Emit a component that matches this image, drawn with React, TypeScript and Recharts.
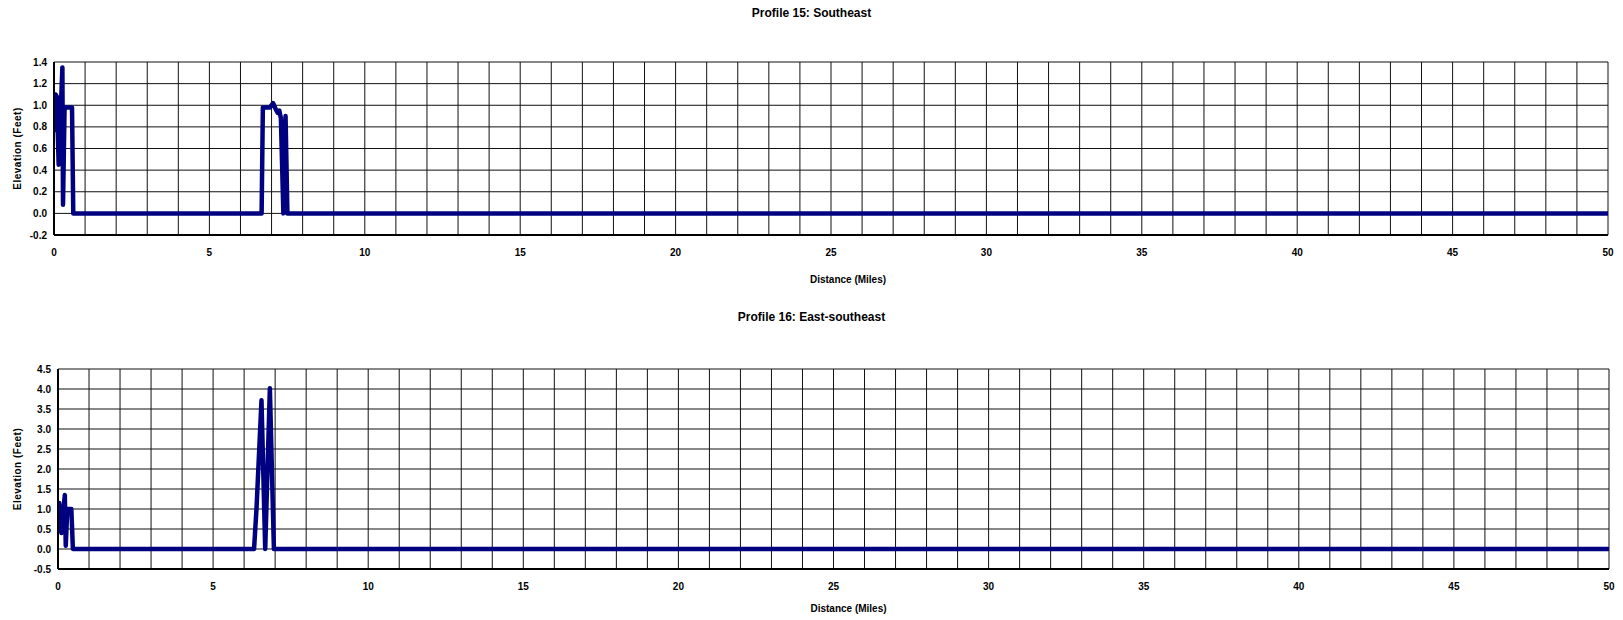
import { CartesianGrid, Line, LineChart, XAxis, YAxis } from "recharts";

// Profile 15: Southeast
const P15_MILES = [0, 0.05, 0.09, 0.15, 0.27, 0.29, 0.34, 0.58, 0.62, 6.68, 6.72, 6.95, 7.05, 7.14, 7.2, 7.25, 7.3, 7.38, 7.45, 7.51, 50];
const P15_FEET = [0.75, 1.1, 1.08, 0.45, 1.35, 0.08, 0.98, 0.98, 0, 0, 0.98, 0.98, 1.02, 0.96, 0.93, 0.95, 0.88, 0, 0.9, 0, 0];

// Profile 16: East-southeast
const P16_MILES = [0, 0.04, 0.11, 0.22, 0.25, 0.3, 0.43, 0.48, 6.32, 6.4, 6.56, 6.68, 6.83, 6.96, 50];
const P16_FEET = [0.6, 1.15, 0.4, 1.35, 0.08, 1.0, 1.0, 0, 0, 1.02, 3.72, 0, 4.02, 0, 0];

const P15_Y_TICKS = [-0.2, 0, 0.2, 0.4, 0.6, 0.8, 1.0, 1.2, 1.4];
const P16_Y_TICKS = [-0.5, 0, 0.5, 1.0, 1.5, 2.0, 2.5, 3.0, 3.5, 4.0, 4.5];
const MILE_LABELS = [0, 5, 10, 15, 20, 25, 30, 35, 40, 45, 50];
const MILE_GRID = Array.from({ length: 51 }, (_, i) => i);

const FONT = "'Liberation Sans', Arial, sans-serif";
const LINE_COLOR = "#000080";

const tickStyle = { fontFamily: FONT, fontSize: 10, fontWeight: 700, fill: "#000" };
const labelStyle = { fontFamily: FONT, fontSize: 10, fontWeight: 700, fill: "#000" };

type ProfileChartProps = {
  title: string;
  miles: number[];
  feet: number[];
  yTicks: number[];
  top: number;
  height: number;
  titleY: number;
  margin: { top: number; right: number; bottom: number; left: number };
  yAxisWidth: number;
  xAxisHeight: number;
  xLabelOffset: number;
  xLabelDx: number;
};

const ProfileChart = ({
  title,
  miles,
  feet,
  yTicks,
  top,
  height,
  titleY,
  margin,
  yAxisWidth,
  xAxisHeight,
  xLabelOffset,
  xLabelDx,
}: ProfileChartProps) => {
  const data = miles.map((mi, i) => ({ mi, ft: feet[i] }));
  const yDomain = [yTicks[0], yTicks[yTicks.length - 1]];

  return (
    <div style={{ position: "absolute", left: 0, top, width: 1623, height }}>
      <div
        style={{
          position: "absolute",
          left: 0,
          top: titleY - 7,
          width: 1623,
          textAlign: "center",
          fontFamily: FONT,
          fontSize: 12,
          fontWeight: 700,
          lineHeight: "14px",
          color: "#000",
        }}
      >
        {title}
      </div>
      <LineChart width={1623} height={height} data={data} margin={margin}>
        <CartesianGrid stroke="#111" strokeWidth={1} verticalValues={MILE_GRID} horizontalValues={yTicks} />
        <XAxis
          dataKey="mi"
          type="number"
          domain={[0, 50]}
          ticks={MILE_LABELS}
          interval={0}
          tickLine={false}
          tickSize={0}
          tickMargin={14}
          height={xAxisHeight}
          axisLine={{ stroke: "#000", strokeWidth: 2 }}
          tick={tickStyle}
          allowDataOverflow
          label={{
            value: "Distance (Miles)",
            position: "insideBottom",
            offset: xLabelOffset,
            dx: xLabelDx,
            ...labelStyle,
          }}
        />
        <XAxis
          xAxisId="top"
          orientation="top"
          type="number"
          domain={[0, 50]}
          height={0}
          tick={false}
          tickLine={false}
          axisLine={{ stroke: "#000", strokeWidth: 2 }}
        />
        <YAxis
          type="number"
          domain={yDomain}
          ticks={yTicks}
          interval={0}
          width={yAxisWidth}
          tickLine={false}
          tickSize={0}
          tickMargin={7}
          axisLine={{ stroke: "#000", strokeWidth: 2 }}
          tick={tickStyle}
          tickFormatter={(v: number) => v.toFixed(1)}
          allowDataOverflow
          label={{
            value: "Elevation (Feet)",
            angle: -90,
            position: "insideLeft",
            offset: 17,
            style: { textAnchor: "middle", letterSpacing: "0.5px" },
            ...labelStyle,
          }}
        />
        <YAxis
          yAxisId="right"
          orientation="right"
          type="number"
          domain={yDomain}
          width={0}
          tick={false}
          tickLine={false}
          axisLine={{ stroke: "#000", strokeWidth: 2 }}
        />
        <Line
          type="linear"
          dataKey="ft"
          stroke={LINE_COLOR}
          strokeWidth={4.5}
          strokeLinejoin="round"
          dot={false}
          activeDot={false}
          isAnimationActive={false}
        />
      </LineChart>
    </div>
  );
};

export default function App() {
  return (
    <div style={{ position: "absolute", left: 0, top: 0, width: 1623, height: 620, background: "#fff" }}>
      <ProfileChart
        title="Profile 15: Southeast"
        miles={P15_MILES}
        feet={P15_FEET}
        yTicks={P15_Y_TICKS}
        top={0}
        height={290}
        titleY={13}
        margin={{ top: 62, right: 15, bottom: 5, left: 0 }}
        yAxisWidth={54}
        xAxisHeight={50}
        xLabelOffset={2}
        xLabelDx={17}
      />
      <ProfileChart
        title="Profile 16: East-southeast"
        miles={P16_MILES}
        feet={P16_FEET}
        yTicks={P16_Y_TICKS}
        top={290}
        height={330}
        titleY={27}
        margin={{ top: 79, right: 14, bottom: 3, left: 0 }}
        yAxisWidth={58}
        xAxisHeight={48}
        xLabelOffset={5}
        xLabelDx={15}
      />
    </div>
  );
}
